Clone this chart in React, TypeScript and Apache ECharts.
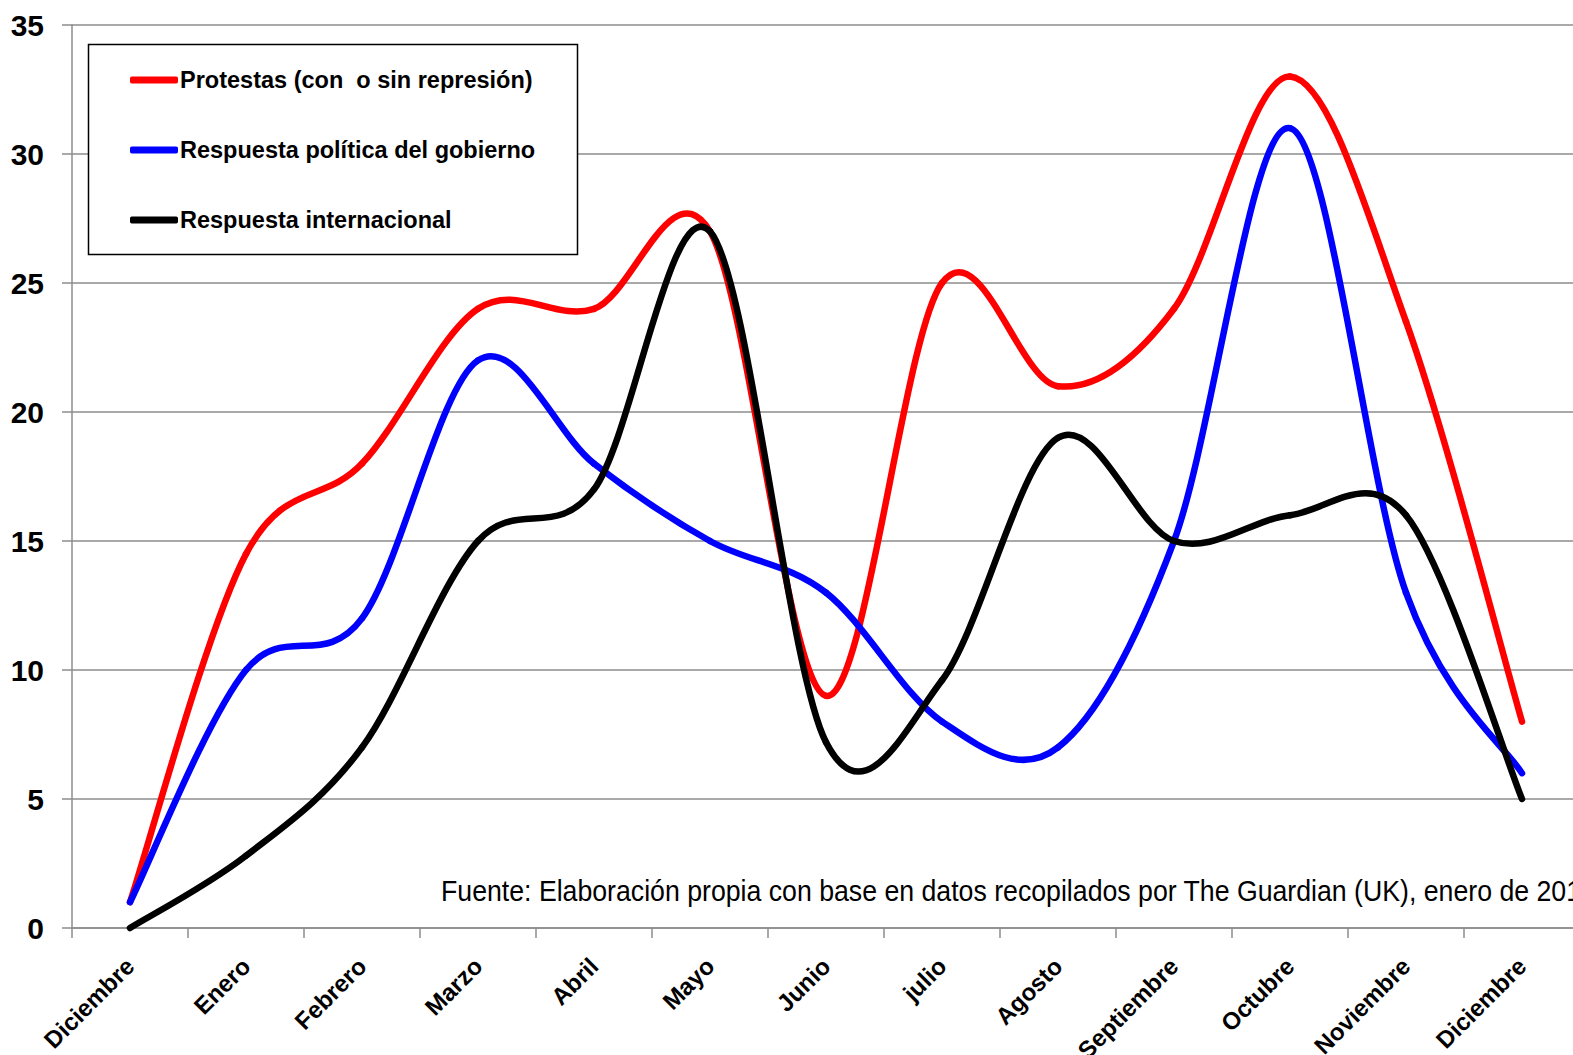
import React, { useEffect, useRef } from "react";
import * as echarts from "echarts";

const categories = [
  "Diciembre", "Enero", "Febrero", "Marzo", "Abril", "Mayo", "Junio",
  "julio", "Agosto", "Septiembre", "Octubre", "Noviembre", "Diciembre",
];
const protestas = [1, 14.5, 18, 24, 24, 27, 9, 25, 21, 24, 33, 23.5, 8];
const respuestaGobierno = [1, 10, 12, 22, 18, 15, 13, 8, 7, 15, 31, 13, 6];
const respuestaInternacional = [0, 2.8, 7, 15, 17, 27, 7.2, 9.6, 19, 15, 16, 16, 5];
const seriesNames = [
  "Protestas (con  o sin represión)",
  "Respuesta política del gobierno",
  "Respuesta internacional",
];
const seriesColors = ["#ff0000", "#0000ff", "#000000"];
const yTicks = { min: 0, max: 35, interval: 5 };
const footnote =
  "Fuente: Elaboración propia con base en datos recopilados por The Guardian (UK), enero de 2012";

const SANS = "'Liberation Sans', Arial, sans-serif";

// Excel-like smoothed line: Catmull-Rom segments drawn as cubic Bezier curves,
// positioned through the chart's own axes (api.coord).
function makeRenderItem(values: number[], color: string) {
  return (params: any, api: any) => {
    const i = params.dataIndex;
    const n = values.length;
    if (i >= n - 1) return null;
    const idx = (k: number) => Math.max(0, Math.min(n - 1, k));
    const p0 = api.coord([idx(i - 1), values[idx(i - 1)]]);
    const p1 = api.coord([i, values[i]]);
    const p2 = api.coord([i + 1, values[i + 1]]);
    const p3 = api.coord([idx(i + 2), values[idx(i + 2)]]);
    return {
      type: "bezierCurve",
      shape: {
        x1: p1[0],
        y1: p1[1],
        cpx1: p1[0] + (p2[0] - p0[0]) / 6,
        cpy1: p1[1] + (p2[1] - p0[1]) / 6,
        cpx2: p2[0] - (p3[0] - p1[0]) / 6,
        cpy2: p2[1] - (p3[1] - p1[1]) / 6,
        x2: p2[0],
        y2: p2[1],
      },
      style: { stroke: color, lineWidth: 6.5, lineCap: "round", lineJoin: "round", fill: null },
    };
  };
}

export default function App() {
  const ref = useRef<HTMLDivElement>(null);
  useEffect(() => {
    if (!ref.current) return;
    const chart = echarts.init(ref.current, null, { renderer: "svg" });
    const data = [protestas, respuestaGobierno, respuestaInternacional];
    chart.setOption({
      animation: false,
      backgroundColor: "#ffffff",
      grid: { left: 72, top: 25, right: -7, bottom: 127, outerBoundsMode: "none" },
      legend: {
        orient: "vertical",
        left: 130,
        top: 66,
        padding: 0,
        itemGap: 42,
        itemWidth: 48,
        itemHeight: 7,
        icon: "roundRect",
        selectedMode: false,
        data: seriesNames,
        textStyle: {
          fontFamily: SANS,
          fontWeight: "bold",
          fontSize: 23.5,
          lineHeight: 28,
          color: "#000",
          padding: [0, 0, 0, -3],
        },
      },
      xAxis: {
        type: "category",
        data: categories,
        boundaryGap: true,
        axisLine: { lineStyle: { color: "#8c8c8c", width: 1.5 } },
        axisTick: { show: true, length: 10, lineStyle: { color: "#8c8c8c", width: 1.5 } },
        axisLabel: {
          interval: 0,
          rotate: 45,
          margin: 34,
          padding: [22, 0, 0, 0],
          fontFamily: SANS,
          fontWeight: "bold",
          fontSize: 24,
          color: "#000",
        },
        splitLine: { show: false },
      },
      yAxis: {
        type: "value",
        min: yTicks.min,
        max: yTicks.max,
        interval: yTicks.interval,
        axisLine: { show: true, lineStyle: { color: "#8c8c8c", width: 1.5 } },
        axisTick: { show: true, length: 10, lineStyle: { color: "#8c8c8c", width: 1.5 } },
        axisLabel: {
          margin: 28,
          fontFamily: SANS,
          fontWeight: "bold",
          fontSize: 30,
          color: "#000",
        },
        splitLine: { show: true, lineStyle: { color: "#8c8c8c", width: 1.5 } },
      },
      graphic: [
        {
          type: "rect",
          z: 3,
          shape: { x: 88.5, y: 44.5, width: 489, height: 210 },
          style: { fill: "#ffffff", stroke: "#000000", lineWidth: 1.5 },
        },
        {
          type: "text",
          z: 3,
          x: 441,
          y: 890,
          scaleX: 0.89,
          style: {
            text: footnote,
            fontFamily: SANS,
            fontSize: 30,
            fill: "#000",
            verticalAlign: "middle",
          },
        },
      ],
      series: data.map((d, i) => ({
        name: seriesNames[i],
        type: "custom",
        data: d.map((v, k) => [k, v]),
        encode: { x: 0, y: 1 },
        itemStyle: { color: seriesColors[i] },
        renderItem: makeRenderItem(d, seriesColors[i]),
        z: 2,
      })),
    });
    return () => chart.dispose();
  }, []);
  return (
    <div
      ref={ref}
      style={{ position: "absolute", left: 0, top: 0, width: 1573, height: 1055 }}
    />
  );
}
